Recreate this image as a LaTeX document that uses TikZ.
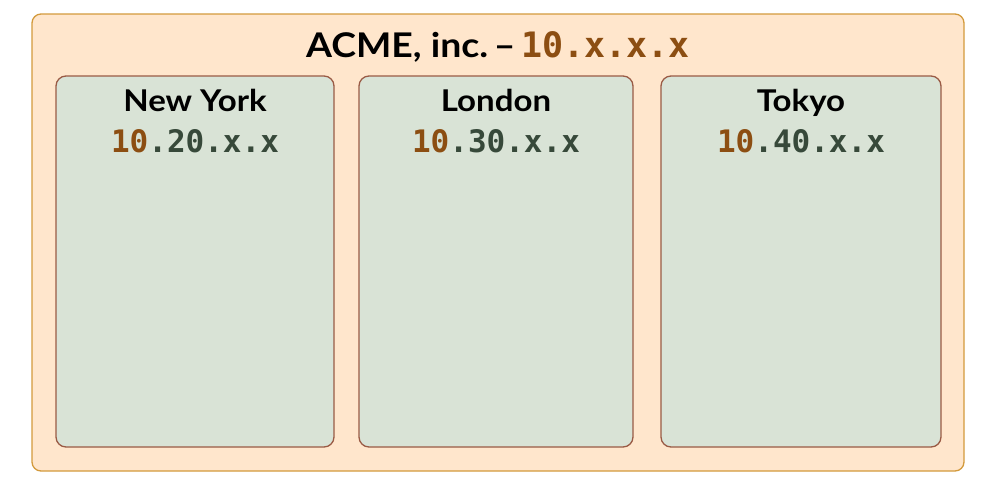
\documentclass[tikz,border=0pt]{standalone}
\usepackage{fontspec}
\setmainfont{Lato}[FakeStretch=1.1]
\setmonofont{DejaVu Sans Mono}
\usetikzlibrary{positioning}

\definecolor{orgfill}{HTML}{FFE6CC}
\definecolor{orgline}{HTML}{D39A3C}
\definecolor{sitefill}{HTML}{D9E3D6}
\definecolor{siteline}{HTML}{9A5B45}
\definecolor{netbrown}{HTML}{8C4E12}
\definecolor{netgreen}{HTML}{37493A}

\newcommand{\netpart}[1]{\textcolor{netbrown}{#1}}
\newcommand{\sitepart}[1]{\textcolor{netgreen}{#1}}

\begin{document}
\begin{tikzpicture}[x=1pt,y=-1pt,line cap=round,line join=round,
        org/.style={draw=orgline,fill=orgfill,line width=1.3pt,rounded corners=9pt},
        site/.style={draw=siteline,fill=sitefill,line width=1.3pt,rounded corners=10pt},
        sitename/.style={anchor=base,font=\fontsize{30}{34}\selectfont\bfseries},
        siteip/.style={anchor=base,font=\fontsize{31}{36}\selectfont\ttfamily\bfseries}]
        \useasboundingbox (0, 0) rectangle (991, 491);

        % outer organisation box
        \draw[org] (32, 14) rectangle (964, 471);
        \node[anchor=base] (title) at (498, 57) {\fontsize{34}{38}\selectfont\bfseries ACME, inc.\,--\,{\ttfamily\fontsize{35}{40}\selectfont\netpart{10.x.x.x}}};

        % sites
        \draw[site] (56, 76) rectangle (334, 447);
        \draw[site] (359, 76) rectangle (633, 447);
        \draw[site] (661, 76) rectangle (941, 447);

        \node[sitename] (ny) at (195, 111) {New York};
        \node[siteip] (nyip) at (195, 152) {\netpart{10}\sitepart{.20.x.x}};

        \node[sitename] (ldn) at (496, 111) {London};
        \node[siteip] (ldnip) at (496, 152) {\netpart{10}\sitepart{.30.x.x}};

        \node[sitename] (tyo) at (801, 111) {Tokyo};
        \node[siteip] (tyoip) at (801, 152) {\netpart{10}\sitepart{.40.x.x}};
    \end{tikzpicture}
\end{document}
